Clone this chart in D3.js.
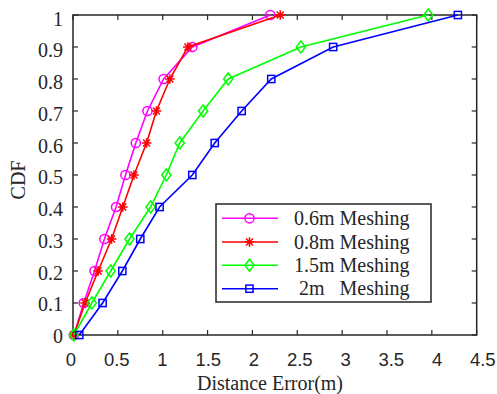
<!DOCTYPE html>
<html><head><meta charset="utf-8">
<script src="https://cdn.jsdelivr.net/npm/d3@7"></script>
<style>body{margin:0;background:#fff}svg{display:block}</style>
</head><body>
<script>
const cdfLevels = [0,0.1,0.2,0.3,0.4,0.5,0.6,0.7,0.8,0.9,1.0];
const err06 = [0.01,0.12,0.24,0.35,0.48,0.585,0.70,0.83,1.01,1.33,2.20];
const err08 = [0.01,0.135,0.28,0.43,0.555,0.68,0.82,0.93,1.08,1.28,2.31];
const err15 = [0.01,0.21,0.42,0.63,0.865,1.04,1.19,1.45,1.73,2.54,3.96];
const err2  = [0.07,0.33,0.55,0.75,0.965,1.33,1.58,1.88,2.21,2.90,4.29];
const seriesNames = ["0.6m Meshing","0.8m Meshing","1.5m Meshing"," 2m   Meshing"];
const xTicks = [0,0.5,1,1.5,2,2.5,3,3.5,4,4.5];
const yTicks = [0,0.1,0.2,0.3,0.4,0.5,0.6,0.7,0.8,0.9,1];

const W=497,H=394;
const L=73,R=476.7,T=15,B=335;
const x=d3.scaleLinear().domain([0,4.5]).range([L,R]);
const y=d3.scaleLinear().domain([0,1]).range([B,T]);
const svg=d3.select("body").append("svg").attr("width",W).attr("height",H);

const series=[
 {name:seriesNames[0],vals:err06,color:"#ff00ff",marker:"circle"},
 {name:seriesNames[1],vals:err08,color:"#ff0000",marker:"star"},
 {name:seriesNames[2],vals:err15,color:"#00ff00",marker:"diamond"},
 {name:seriesNames[3],vals:err2,color:"#0000ff",marker:"square"}
];

function drawMarker(g,type,cx,cy,color){
  if(type==="circle"){
    g.append("circle").attr("cx",cx).attr("cy",cy).attr("r",4.6).attr("fill","none").attr("stroke",color).attr("stroke-width",1.5);
  } else if(type==="star"){
    const s=4.8,d=s*0.72;
    const p=`M${cx-s},${cy}L${cx+s},${cy}M${cx},${cy-s}L${cx},${cy+s}M${cx-d},${cy-d}L${cx+d},${cy+d}M${cx-d},${cy+d}L${cx+d},${cy-d}`;
    g.append("path").attr("d",p).attr("stroke",color).attr("stroke-width",1.5).attr("fill","none");
  } else if(type==="diamond"){
    const w=4.6,h=6;
    g.append("path").attr("d",`M${cx},${cy-h}L${cx+w},${cy}L${cx},${cy+h}L${cx-w},${cy}Z`).attr("fill","none").attr("stroke",color).attr("stroke-width",1.5);
  } else {
    const s=3.6;
    g.append("rect").attr("x",cx-s).attr("y",cy-s).attr("width",2*s).attr("height",2*s).attr("fill","none").attr("stroke",color).attr("stroke-width",1.5);
  }
}

const axisColor="#262626";
const serif="Liberation Serif, Times New Roman, serif";
const ga=svg.append("g");
xTicks.forEach(t=>{
  ga.append("line").attr("x1",x(t)).attr("x2",x(t)).attr("y1",B).attr("y2",B-5).attr("stroke",axisColor).attr("stroke-width",1.2);
  ga.append("line").attr("x1",x(t)).attr("x2",x(t)).attr("y1",T).attr("y2",T+5).attr("stroke",axisColor).attr("stroke-width",1.2);
  ga.append("text").attr("x",x(t)-2+1.8*t).attr("y",366).attr("text-anchor","middle")
    .attr("font-family","Liberation Sans, Arial, sans-serif").attr("font-size",18.5).attr("fill","#262626").text(d3.format("~g")(t));
});
yTicks.forEach(t=>{
  ga.append("line").attr("y1",y(t)).attr("y2",y(t)).attr("x1",L).attr("x2",L+5).attr("stroke",axisColor).attr("stroke-width",1.2);
  ga.append("line").attr("y1",y(t)).attr("y2",y(t)).attr("x1",R).attr("x2",R-5).attr("stroke",axisColor).attr("stroke-width",1.2);
  ga.append("text").attr("x",63).attr("y",y(t)+8+2.5*t).attr("text-anchor","end")
    .attr("font-family",serif).attr("font-size",20).attr("fill","#262626").text(d3.format("~g")(t));
});
ga.append("rect").attr("x",L).attr("y",T).attr("width",R-L).attr("height",B-T).attr("fill","none").attr("stroke",axisColor).attr("stroke-width",1.5);

const line=d3.line().x(d=>x(d[0])).y(d=>y(d[1]));
series.forEach(s=>{
  const pts=s.vals.map((v,i)=>[v,cdfLevels[i]]);
  const g=svg.append("g");
  g.append("path").attr("d",line(pts)).attr("fill","none").attr("stroke",s.color).attr("stroke-width",1.6);
  pts.forEach(p=>drawMarker(g,s.marker,x(p[0]),y(p[1]),s.color));
});

svg.append("text").attr("x",270).attr("y",390).attr("text-anchor","middle")
  .attr("font-family",serif).attr("font-size",20).attr("fill","#262626").text("Distance Error(m)");
svg.append("text").attr("transform","translate(25,180) rotate(-90)").attr("text-anchor","middle")
  .attr("font-family",serif).attr("font-size",20).attr("fill","#262626").text("CDF");

const lg=svg.append("g");
lg.append("rect").attr("x",216).attr("y",204).attr("width",215).attr("height",98).attr("fill","#fff").attr("stroke",axisColor).attr("stroke-width",1.5);
const rowY=[218.3,242,265.3,288.7];
series.forEach((s,i)=>{
  const yy=rowY[i];
  lg.append("line").attr("x1",222).attr("x2",278).attr("y1",yy).attr("y2",yy).attr("stroke",s.color).attr("stroke-width",1.6);
  drawMarker(lg,s.marker,249.5,yy,s.color);
  lg.append("text").attr("x",294).attr("y",yy+6.5).attr("xml:space","preserve").style("white-space","pre")
    .attr("font-family",serif).attr("font-size",20).attr("fill","#262626").text(s.name);
});
</script>
</body></html>
